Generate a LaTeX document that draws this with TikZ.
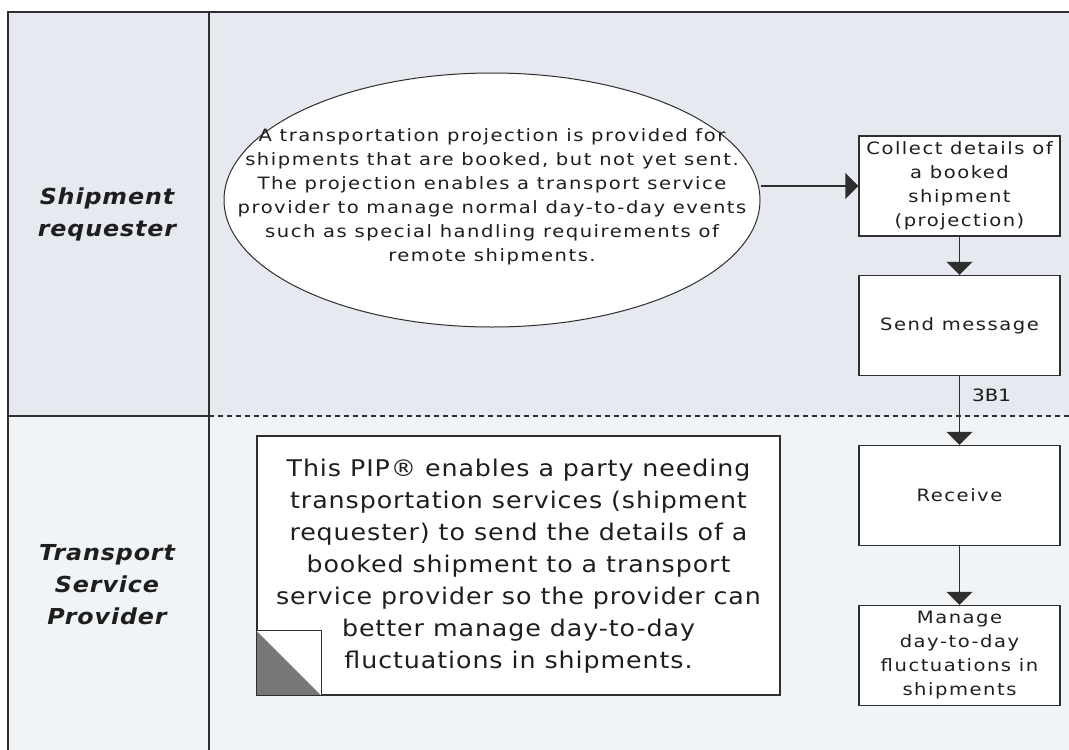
\documentclass[tikz,border=0pt]{standalone}
\usepackage{fontspec}
\setmainfont{DejaVu Sans}
\newfontfamily\vfont[FakeStretch=1.15,LetterSpace=9]{DejaVu Sans}
\newfontfamily\nfont[FakeStretch=1.1,LetterSpace=4]{DejaVu Sans}
\newfontfamily\lanefont[FakeStretch=1.08,LetterSpace=4]{DejaVu Sans}
\newfontfamily\mfont[FakeStretch=1.25]{DejaVu Sans Mono}
\usetikzlibrary{shapes.geometric,arrows.meta}
\definecolor{laneA}{HTML}{E6E9F0}
\definecolor{laneB}{HTML}{F0F4F6}
\definecolor{frame}{HTML}{2E2E2E}
\definecolor{ink}{HTML}{1E1E1E}
\definecolor{foldgray}{HTML}{777777}
\begin{document}
\begin{tikzpicture}[x=1pt,y=-1pt,
  frameline/.style={draw=frame,line width=1.6pt},
  lanelabel/.style={align=center,text=ink,font=\lanefont\fontsize{22}{32}\selectfont\bfseries\itshape},
  stepbox/.style={draw=frame,fill=white,line width=1.4pt,minimum width=201pt,minimum height=100pt,inner sep=0pt,align=center,text=ink,font=\vfont\fontsize{17}{24}\selectfont},
  flow/.style={draw=frame,line width=1.4pt,-{Triangle[length=13pt,width=26pt]}},
  bigtext/.style={align=center,text=ink,inner sep=0pt},
]
\useasboundingbox (0,0) rectangle (1069,750);
\fill[white] (0,0) rectangle (1069,750);
\fill[laneA] (8,12) rectangle (1069,416);
\fill[laneB] (8,416) rectangle (1069,750);
\draw[frameline] (8,750) -- (8,12) -- (1069,12);
\draw[frameline] (209,12) -- (209,750);
\draw[frameline] (8,416) -- (209,416);
\draw[draw=frame,line width=1.2pt,dash pattern=on 5pt off 4pt] (209,416) -- (1069,416);

% lane labels
\node[lanelabel] (laneSR) at (107,214) {Shipment\\requester};
\node[lanelabel] (laneTSP) at (107,585) {Transport\\Service\\Provider};

% ellipse
\node[ellipse,draw=frame,fill=white,line width=1pt,minimum width=536pt,minimum height=254pt,inner sep=0pt] (ell) at (492,200) {};
\node[bigtext,font=\vfont\fontsize{17}{24}\selectfont] (elltxt) at (492,197)
  {A transportation projection is provided for\\
   shipments that are booked, but not yet sent.\\
   The projection enables a transport service\\
   provider to manage normal day-to-day events\\
   such as special handling requirements of\\
   remote shipments.};

% process boxes
\node[stepbox] (collect) at (959.5,186) {Collect details of\\a booked\\shipment\\(projection)};
\node[stepbox] (send) at (959.5,325.5) {Send message};
\node[stepbox] (receive) at (959.5,495.5) {Receive};
\node[stepbox] (manage) at (959.5,655.5) {Manage\\day-to-day\\fluctuations in\\shipments};

% note
\node[draw=frame,fill=white,line width=1.4pt,minimum width=523pt,minimum height=259pt,inner sep=0pt] (note) at (518.5,565.5) {};
\fill[white] (note.south west) rectangle ++(65,-65);
\fill[foldgray] (note.south west) -- ++(0,-65) -- ++(65,65) -- cycle;
\draw[draw=frame,line width=1.2pt] (note.south west) rectangle ++(65,-65);
\node[bigtext,font=\nfont\fontsize{23}{32}\selectfont] (notetxt) at (518.5,566)
  {This PIP® enables a party needing\\
   transportation services (shipment\\
   requester) to send the details of a\\
   booked shipment to a transport\\
   service provider so the provider can\\
   better manage day-to-day\\
   fluctuations in shipments.};

% connectors
\draw[flow] (ell.east |- collect.west) -- (collect.west);
\draw[flow] (collect.south) -- (send.north);
\draw[flow] (send.south) -- (receive.north);
\draw[flow] (receive.south) -- (manage.north);
\node[anchor=west,text=ink,font=\mfont\fontsize{17}{18}\selectfont,inner sep=0pt] (lbl3b1) at (972,395) {3B1};
\end{tikzpicture}
\end{document}
